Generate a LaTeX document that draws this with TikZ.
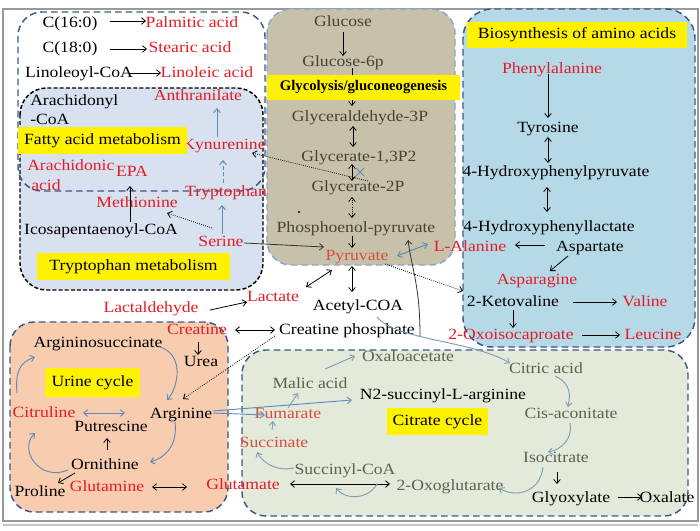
\documentclass[tikz,border=0pt]{standalone}
\usepackage{fontspec}
\setmainfont{Liberation Serif}[FakeStretch=1.13]
\newfontfamily\plainserif{Liberation Serif}
\usetikzlibrary{arrows.meta}
\definecolor{redc}{RGB}{228,28,36}
\definecolor{redl}{RGB}{212,78,66}
\definecolor{glyt}{RGB}{70,66,52}
\definecolor{citt}{RGB}{92,98,82}
\definecolor{bluea}{RGB}{95,138,185}
\definecolor{bluec}{RGB}{125,158,180}
\definecolor{dashb}{RGB}{62,88,135}
\definecolor{dashl}{RGB}{135,165,205}
\definecolor{trpfill}{RGB}{215,225,240}
\definecolor{glyfill}{RGB}{200,193,170}
\definecolor{biofill}{RGB}{182,217,231}
\definecolor{urfill}{RGB}{248,204,174}
\definecolor{citfill}{RGB}{228,234,217}
\newcommand\mfs{\fontsize{11.7}{13.5}\selectfont}
\begin{document}
\begin{tikzpicture}[x=0.75pt,y=-0.75pt,
  >={Straight Barb[length=3pt,width=5pt]},
  every node/.style={inner sep=0pt, font=\mfs, text height=8pt, text depth=1.7pt},
  bk/.style={text=black},
  rd/.style={text=redc},
  rl/.style={text=redl},
  gy/.style={text=glyt},
  cg/.style={text=citt},
  ylw/.style={fill=yellow, text=black, text height=, text depth=},
  ar/.style={draw=black, line width=0.6pt, ->},
  dar/.style={draw=black, line width=0.6pt, <->},
  ab/.style={draw=bluea, line width=0.7pt, ->},
  dab/.style={draw=bluea, line width=0.7pt, <->},
  cb/.style={draw=bluec, line width=0.7pt, ->},
  boxb/.style={draw=dashb, line width=1.1pt, dash pattern=on 5pt off 3pt, rounded corners=18pt},
]
\useasboundingbox (0,0) rectangle (700,531);
\fill[white] (0,0) rectangle (700,531);
% frame
\draw[gray!80, line width=1pt] (3,9) rectangle (698,521);
\draw[gray!45, line width=1pt] (3,525) -- (698,525);

% boxes
\filldraw[fill=trpfill, draw=black, line width=1.1pt, dash pattern=on 3pt off 1.6pt, rounded corners=20pt] (20,88) rectangle (263,290);
\draw[boxb] (18,12) rectangle (265,191);
\filldraw[fill=glyfill, draw=dashl, line width=1.1pt, dash pattern=on 5pt off 3pt, rounded corners=18pt] (267,9) rectangle (455,265);
\filldraw[boxb, fill=biofill, rounded corners=22pt] (463,9) rectangle (695,347);
\filldraw[boxb, fill=urfill] (10,322) rectangle (228,512);
\filldraw[boxb, fill=citfill] (242,350) rectangle (688,516);

% fatty acid / tryptophan texts
\node[bk] (c16) at (70,23) {C(16:0)};
\node[rd] (palm) at (192,23) {Palmitic acid};
\node[bk] (c18) at (70,48) {C(18:0)};
\node[rd] (stear) at (190,48) {Stearic acid};
\node[bk] (linco) at (79,73) {Linoleoyl-CoA};
\node[rd] (linac) at (207,73) {Linoleic acid};
\node[bk, anchor=west] (arach1) at (30,101) {Arachidonyl};
\node[bk, anchor=west] (arach2) at (30,120) {-CoA};
\node[rd] (anth) at (198,96) {Anthranilate};
\node[rd] (kyn) at (224,145) {Kynurenine};
\node[rd, anchor=west] (arac1) at (27,166) {Arachidonic};
\node[rd, anchor=west] (arac2) at (31,186) {acid};
\node[rd] (epa) at (132,172) {EPA};
\node[rd] (trp) at (226,192) {Tryptophan};
\node[rd] (met) at (137,203) {Methionine};
\node[bk] (icos) at (101,230) {Icosapentaenoyl-CoA};
\node[rd] (ser) at (221,242) {Serine};

% glycolysis texts
\node[gy] (glc) at (343,22) {Glucose};
\node[gy] (g6p) at (343,62) {Glucose-6p};
\node[gy] (ga3p) at (360,117) {Glyceraldehyde-3P};
\node[gy] (g13) at (359,157) {Glycerate-1,3P2};
\node[gy] (g2p) at (358,187) {Glycerate-2P};
\node[gy] (pep) at (356,228) {Phosphoenol-pyruvate};
\node[rl] (pyr) at (357,256) {Pyruvate};
\fill[black] (299,212) circle (0.9pt);

% biosynthesis texts
\node[rd] (phe) at (552,69) {Phenylalanine};
\node[bk] (tyr) at (548,128) {Tyrosine};
\node[bk] (hpp) at (556,172) {4-Hydroxyphenylpyruvate};
\node[bk] (hpl) at (549,227) {4-Hydroxyphenyllactate};
\node[bk] (asp) at (590,247) {Aspartate};
\node[rd] (ala) at (470,247) {L-Alanine};
\node[rd] (asn) at (537,280) {Asparagine};
\node[bk] (kv) at (513,302) {2-Ketovaline};
\node[rd] (val) at (645,302) {Valine};
\node[rd] (oic) at (511,335) {2-Oxoisocaproate};
\node[rd] (leu) at (653,335) {Leucine};

% middle texts
\node[bk] (acoa) at (358,306) {Acetyl-COA};
\node[rd] (lact) at (273,297) {Lactate};
\node[rd] (ldh) at (151,308) {Lactaldehyde};
\node[rd] (crt) at (197,330) {Creatine};
\node[bk] (crp) at (347,330) {Creatine phosphate};

% urine cycle texts
\node[bk] (asuc) at (98,343) {Argininosuccinate};
\node[bk] (urea) at (201,362) {Urea};
\node[rd] (citr) at (44,413) {Citruline};
\node[bk] (arg) at (181,414) {Arginine};
\node[bk] (put) at (111,427) {Putrescine};
\node[bk] (orn) at (105,465) {Ornithine};
\node[bk] (pro) at (40,492) {Proline};
\node[rd] (gln) at (107,487) {Glutamine};
\node[rd] (glu) at (243,485) {Glutamate};

% citrate cycle texts
\node[cg] (oxa) at (408,357) {Oxaloacetate};
\node[cg] (mal) at (310,384) {Malic acid};
\node[bk] (n2) at (443,395) {N2-succinyl-L-arginine};
\node[rl] (fum) at (288,414) {Fumarate};
\node[rl] (suc) at (274,443) {Succinate};
\node[cg] (scoa) at (345,470) {Succinyl-CoA};
\node[cg] (oxg) at (450,486) {2-Oxoglutarate};
\node[cg] (cit) at (546,369) {Citric acid};
\node[cg] (cis) at (571,414) {Cis-aconitate};
\node[cg] (iso) at (556,458) {Isocitrate};
\node[bk] (glx) at (571,498) {Glyoxylate};
\node[bk] (oxl) at (667,498) {Oxalate};

% fatty / tryptophan arrows
\draw[ar] ([shift={(40,-2)}]c16.center) -- ([shift={(-46,-2)}]palm.center);
\draw[ar] ([shift={(40,1)}]c18.center) -- ([shift={(-43,1)}]stear.center);
\draw[ar] ([shift={(51,0)}]linco.center) -- ([shift={(-46,0)}]linac.center);
\draw[ab] ([shift={(-7,-8)}]kyn.center) -- ([shift={(19,12)}]anth.center);
\draw[ab, densely dashed] ([shift={(-3,-9)}]trp.center) -- ([shift={(-1,15)}]kyn.center);
\draw[ar] ([shift={(29,-8)}]icos.center) -- ([shift={(-2,14)}]epa.center);
\draw[ar, densely dotted] ([shift={(-9,-14)}]ser.center) -- ([shift={(30,10)}]met.center);
\draw[ab] ([shift={(1,-8)}]ser.center) -- ([shift={(-4,13)}]trp.center);
\draw[ar, draw=black!80] ([shift={(23,1)}]ser.center) -- ([shift={(-33,-9)}]pyr.center);
\draw[ar, densely dotted] ([shift={(10,-6)}]g2p.center) -- ([shift={(28,8)}]kyn.center);
\draw[bluea, line width=0.7pt] (356,168) -- (364,176) (356,176) -- (364,168);

% glycolysis arrows
\draw[ar] ([shift={(0,10)}]glc.center) -- ([shift={(0,-6)}]g6p.center);
\draw[ar] ([shift={(9,6)}]g6p.center) -- ([shift={(-8,-11)}]ga3p.center);
\draw[dar] ([shift={(-7,9)}]ga3p.center) -- ([shift={(-6,-10)}]g13.center);
\draw[dar] ([shift={(-7,7)}]g13.center) -- ([shift={(-6,-6)}]g2p.center);
\draw[dar, densely dotted] ([shift={(-6,10)}]g2p.center) -- ([shift={(-4,-10)}]pep.center);
\draw[ar] ([shift={(-4,8)}]pep.center) -- ([shift={(-5,-8)}]pyr.center);
\draw[dab] ([shift={(40,0)}]pyr.center) -- ([shift={(-42,-3)}]ala.center);
\draw[dar] ([shift={(-5,10)}]pyr.center) -- ([shift={(-6,-14)}]acoa.center);
\draw[dar] ([shift={(-25,14)}]pyr.center) -- ([shift={(33,-10)}]lact.center);
\draw[ar, densely dotted] ([shift={(28,8)}]pyr.center) -- ([shift={(-50,-11)}]kv.center);
\draw[ar, draw=black!80] ([shift={(73,6)}]crp.center) .. controls +(0,-50) and +(4,30) .. ([shift={(52,12)}]pep.center);

% biosynthesis arrows
\draw[ar] ([shift={(-4,5)}]phe.center) -- ([shift={(0,-10)}]tyr.center);
\draw[dar] ([shift={(0,9)}]tyr.center) -- ([shift={(-8,-9)}]hpp.center);
\draw[dar] ([shift={(-9,15)}]hpp.center) -- ([shift={(-2,-15)}]hpl.center);
\draw[ar] ([shift={(-45,-2)}]asp.center) -- ([shift={(45,-2)}]ala.center);
\draw[ar] ([shift={(-22,9)}]asp.center) -- ([shift={(13,-9)}]asn.center);
\draw[ar] ([shift={(60,0)}]kv.center) -- ([shift={(-28,0)}]val.center);
\draw[ar] ([shift={(0,8)}]kv.center) -- ([shift={(2,-7)}]oic.center);
\draw[ar] ([shift={(71,0)}]oic.center) -- ([shift={(-33,0)}]leu.center);

% middle arrows
\draw[ar] ([shift={(59,2)}]ldh.center) -- ([shift={(-26,5)}]lact.center);
\draw[dar] ([shift={(38,0)}]crt.center) -- ([shift={(-72,0)}]crp.center);
\draw[ar, densely dotted] ([shift={(-72,6)}]crp.center) -- ([shift={(2,-15)}]arg.center);
\draw[cb] ([shift={(19,11)}]acoa.center) .. controls +(18,23) and +(-40,-23) .. ([shift={(-36,-6)}]cit.center);
\draw[ar] ([shift={(1,12)}]crt.center) -- ([shift={(-3,-7)}]urea.center);

% urine cycle arrows
\draw[dab] ([shift={(39,0)}]citr.center) -- ([shift={(-56,-1)}]arg.center);
\draw[ar] ([shift={(2,-15)}]orn.center) -- ([shift={(-4,11)}]put.center);
\draw[ar] ([shift={(-30,8)}]orn.center) -- ([shift={(18,-9)}]pro.center);
\draw[dar] ([shift={(45,0)}]gln.center) -- ([shift={(-56,2)}]glu.center);
\draw[ab] ([shift={(-27,-20)}]citr.center) .. controls +(-2,-21) and +(-15,5) .. ([shift={(-63,14)}]asuc.center);
\draw[ab] ([shift={(62,4)}]asuc.center) .. controls +(25,8) and +(11,-12) .. ([shift={(-14,-14)}]arg.center);
\draw[ab] ([shift={(-6,8)}]arg.center) .. controls +(3,23) and +(15,-4) .. ([shift={(45,-3)}]orn.center);
\draw[ab] ([shift={(-37,5)}]orn.center) .. controls +(-28,12) and +(-17,17) .. ([shift={(-9,20)}]citr.center);
\draw[ab] ([shift={(32,-1)}]arg.center) -- ([shift={(-23,1)}]fum.center);
\draw[ab] ([shift={(32,-3)}]arg.center) -- ([shift={(-91,5)}]n2.center);

% citrate cycle arrows
\draw[cb] ([shift={(15,-15)}]mal.center) -- ([shift={(-53,-1)}]oxa.center);
\draw[cb] ([shift={(0,-6)}]fum.center) -- ([shift={(-12,9)}]mal.center);
\draw[cb] ([shift={(-2,-13)}]suc.center) -- ([shift={(-15,7)}]fum.center);
\draw[cb] ([shift={(-51,-2)}]scoa.center) .. controls +(-18,4) and +(5,10) .. ([shift={(-17,9)}]suc.center);
\draw[dar] ([shift={(47,-1)}]glu.center) -- ([shift={(-60,-2)}]oxg.center);
\draw[cb] ([shift={(-73,-2)}]oxg.center) .. controls +(-9,16) and +(9,12) .. ([shift={(-9,18)}]scoa.center);
\draw[cb] ([shift={(9,7)}]cit.center) .. controls +(17,8) and +(2,-11) .. ([shift={(-3,-7)}]cis.center);
\draw[cb] ([shift={(-1,9)}]cis.center) .. controls +(3,17) and +(12,-2) .. ([shift={(-8,-6)}]iso.center);
\draw[cb] ([shift={(-13,9)}]iso.center) .. controls +(-3,26) and +(16,10) .. ([shift={(49,2)}]oxg.center);
\draw[ar] ([shift={(1,14)}]iso.center) -- ([shift={(-14,-14)}]glx.center);
\draw[ar] ([shift={(47,-1)}]glx.center) -- ([shift={(-25,-1)}]oxl.center);

% yellow labels
\node[ylw, minimum width=126.75pt, minimum height=20.25pt] (fam) at (102.5,140.5) {Fatty acid metabolism};
\node[ylw, minimum width=144.75pt, minimum height=20.25pt] (trm) at (133.5,266.5) {Tryptophan metabolism};
\node[ylw, minimum width=144.75pt, minimum height=18.75pt, font=\plainserif\bfseries\fontsize{11}{12}\selectfont] (gyl) at (363.5,87.5) {Glycolysis/gluconeogenesis};
\node[ylw, minimum width=165pt, minimum height=19.5pt] (bio) at (577,35) {Biosynthesis of amino acids};
\node[ylw, minimum width=71.25pt, minimum height=21.75pt] (urc) at (92.5,382.5) {Urine cycle};
\node[ylw, minimum width=75.75pt, minimum height=20.25pt] (cyc) at (437.5,421.5) {Citrate cycle};
\end{tikzpicture}
\end{document}
